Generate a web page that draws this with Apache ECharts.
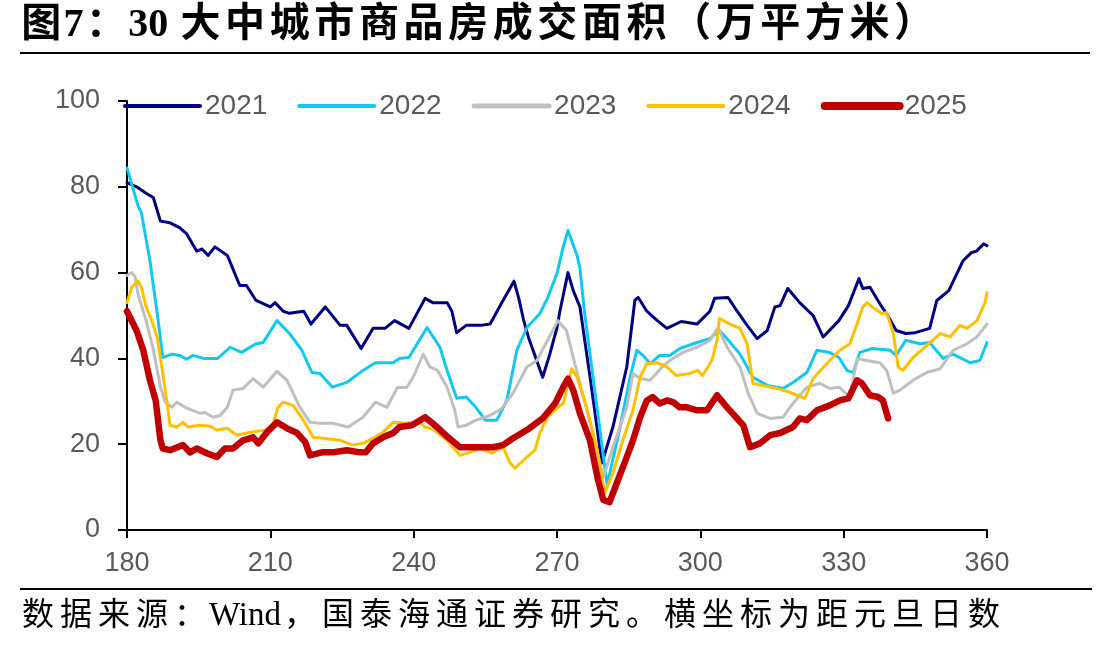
<!DOCTYPE html>
<html>
<head>
<meta charset="utf-8">
<script src="https://cdn.jsdelivr.net/npm/echarts@6/dist/echarts.min.js"></script>
<style>
  html, body { margin: 0; padding: 0; background: #fff; }
  #main { width: 1108px; height: 648px; }
</style>
</head>
<body>
<div id="main"></div>
<script>
// 距元旦日数 / 成交面积(万平方米)
const xTicks = [180, 210, 240, 270, 300, 330, 360];
const yTicks = [0, 20, 40, 60, 80, 100];
const years = ['2021', '2022', '2023', '2024', '2025'];

const days2021 = [180,182,184,185.5,187,189,191,192.5,194.6,195.7,197,198.4,201,203.6,205,207,210,211,212.7,214,217,218.5,221.5,224.6,226,229,231.5,234,236,239,242.4,244,247,248,249,251,254,256,258.7,261,262,263,264,267,268.5,270,270.6,272.3,273.4,274.8,277,279.4,281.7,284.6,286.3,287,288.8,291,293,296,299.3,302,303,305.8,307.7,309.8,311.9,314,315.6,316.7,318.3,320.8,323.6,325.7,329,331,333.2,334,335.5,338,339,341,343,345,348,349.5,352,355,356.8,357.8,359.3,360];
const vals2021 = [81,80,78.5,77.5,72,71.6,70.5,69,65,65.5,64,66,64,57,57,53.5,52,53,51,50.5,51,48,52,47.7,47.7,42.3,47,47,48.8,47,54,53,53,51,46,47.7,47.7,48,53.5,58,54,49,45,35.6,41,47.2,51,60,55.8,52,35,15.6,24,38,53.5,54.2,51,48.8,47,48.6,48,51,54,54.2,51,47.7,44.6,46.5,52,52.3,56.3,53,50,45,48.8,52.3,58.6,56.3,56.6,52,50.4,46.5,45.8,46,47,53.5,55.8,62.8,64.7,65,66.7,66.3];

const days2022 = [180,182.3,183,184.8,186.5,187.5,189.4,191,192.5,193.8,196,199,201.6,204,207,208.5,211.4,214,216.6,218.7,220.4,223,226,229.4,232,235.7,237,239,242.8,245.5,247,249,251,253,255,257.4,259.5,261.6,263.7,266.4,268,270,271.3,272.3,273.3,274.2,274.8,275.8,280.5,283.2,285.3,286.7,288,289.5,291.5,293.6,295.7,299.3,302,304,305.6,308.3,311,314,317.3,319.4,322.3,324.4,327,329,330.7,332,333.4,336,339.7,341,343,346,348,350.8,352.9,356.4,358.5,360];
const vals2022 = [84.4,75.6,74,62.8,49,40.2,41,40.7,39.8,40.7,40,40,42.6,41.4,43.4,43.7,48.8,45.8,41.9,36.7,36.5,33.3,34.4,37.2,39,39,40,40.2,47.2,42.6,37.2,30.7,31,28.6,25.6,25.6,30.2,41.9,47.2,50.4,54,59.8,66,69.8,66.7,64,61,50.4,10.5,24,35.6,41.9,40.7,38.8,40.7,40.7,42.3,43.7,44.6,46.5,44.6,41,35.6,33.7,33,34.4,36.7,41.9,41.4,40.2,37.2,36.7,41.4,42.3,41.9,40.7,44.2,43.4,43.7,40,41,39,39.5,43.7];

const days2023 = [180,181,181.7,182.3,182.7,184,185.4,187,188,189.4,190.4,192.5,195.3,196.3,198,199.5,201,202.2,204.3,206.4,208.5,211.4,213.5,216.2,218.3,220.4,223,226.3,229.4,232,234.4,236.6,238.6,239.9,242,243.4,245,247,248.6,249.3,251,253,256,258.5,260.8,263.7,265.8,268,270.2,272,273.4,274.8,277.5,279.7,281.7,284.6,285.9,287.4,289.5,292,293.6,296.4,299.3,302,303.7,305.6,308.3,310,311.9,314.6,317.3,319.4,322.3,325,327,329,331.3,332.8,334.9,337.6,339,340.4,341.8,344.5,347.4,350.2,352.9,355.8,357.9,360];
const vals2023 = [59.3,60,59,55,53.5,48.8,42.6,33.3,29.8,28.6,29.8,28.4,27.2,27.4,26.3,26.7,28.6,32.6,33,35.3,33.3,37,34.9,28.6,25.1,24.9,24.9,24,26.3,29.8,28.6,33.2,33.3,35.6,41,38,37.2,33.3,27.9,24,24.4,25.6,26.7,28.4,31.9,38,39.5,44.2,48.8,46.5,40.2,34.2,22.6,12.3,19.3,28.6,36.5,35.3,34.9,38,39.5,41.4,42.6,44.2,47.2,42.6,38,31.9,27.2,26,26.3,29.5,33.3,34.2,33,33.3,31,40,39.5,39,37.2,31.9,32.6,34.9,36.7,37.6,41.9,43.4,45,48];

const days2024 = [180,181,182.3,183,184,185.2,186.3,187.3,188.4,189,190.4,191.7,192.8,195.3,197.4,198.8,201,203,205,207.2,209.3,210.6,211.6,212.7,214.8,216.9,219,221,224.6,227.3,229.4,231.5,233.6,235.7,238.6,241.3,242.4,244,247,249.7,251.8,253.9,256.4,258.7,260.2,261.2,263.7,265.4,266.4,268,270,271.3,273.1,274.2,276.2,278.4,280,281.7,283.8,285.9,287.4,288.8,291,293,295,297.8,299.5,300.5,302.4,303.5,304,306.2,308.3,309.8,311,313,316,318.8,321.9,323.6,326.5,329.2,331.3,332.8,334,334.9,336,338,339,340.4,341.4,342.4,344.5,347.4,350.2,352.3,354.3,355.8,357.9,359.6,360];
const vals2024 = [53,56.6,58.1,56.6,52,48.8,45,38,29.5,24.4,24,25.1,24,24.4,24.2,23.3,23.7,22.1,22.6,23,23.3,24.9,28.6,29.8,29,25.6,21.6,21.4,20.9,19.8,20.2,21.4,22.8,25.1,24.9,25.1,24,23.5,20.9,17.4,18.1,19,17.9,19.3,15.6,14.4,17,18.6,22.6,26.3,28.4,29.5,37.6,35.6,28.6,18.6,8.6,13.3,20.9,27.9,35.6,38.8,39,38,36,36.5,37.2,36,39.5,44.2,49.3,48,47,43.4,34.2,33.7,33,32.1,30.7,35.3,38.8,41.9,43.4,48,52,53,52,50.4,50.7,45.8,38,37.2,40.2,43,45.8,45,47.7,47,48.8,53,55.3];

const days2025 = [180,182,183.4,184.8,186,187,187.5,189,191.7,193.2,194.6,196.7,198.8,200.5,202.2,204.3,206.4,207.5,209.3,211.4,213.5,215.6,217.3,218.3,220.8,223,226,228.8,230,231.5,233.6,235.7,237,239.6,242.4,244.9,247.2,249.7,252.4,256.6,258.7,260.8,263.7,267,269.6,271.3,272.3,273.4,274.8,276.9,278.6,279.7,281,282.5,284.6,285.9,287.4,288.8,290,291.5,293,294.3,295.7,297.2,299.3,301.4,303.5,305.6,307.7,309,310.4,312.5,314.6,316.7,319.4,320.8,322.3,324.4,327,329.2,331,332.8,333.8,335.5,337.2,338.2,339.3];
const vals2025 = [51,46.5,41.9,34.9,30.2,20.9,19,18.6,19.8,18.1,19,17.9,17,19,19,20.9,21.6,20.2,22.8,25.1,23.7,22.6,20.5,17.4,18.1,18.1,18.6,18.1,18.1,20.2,21.6,22.6,24,24.4,26.3,24,21.6,19.3,19.3,19.3,19.8,21.4,23.3,26,29.5,33.3,35.3,32.6,27.2,20.9,11.6,7,6.5,10.9,17,20.9,26.3,30.2,31,29.5,30.2,29.8,28.6,28.6,27.9,27.9,31.4,28.6,26,24.4,19.3,20.2,22.1,22.6,24,26,25.6,27.9,29,30.2,30.7,34.9,34.2,31.4,31,30.2,26];

const colors = ['#000080', '#12C8F2', '#BFBFBF', '#FFC000', '#C00000'];
const widths = [3, 3, 3, 3, 6.5];
const legendWidths = [4, 4, 5, 4, 8];
const allDays = [days2021, days2022, days2023, days2024, days2025];
const allVals = [vals2021, vals2022, vals2023, vals2024, vals2025];

const titleText = '图7：30 大中城市商品房成交面积（万平方米）';
const sourceText = '数据来源：Wind，国泰海通证券研究。横坐标为距元旦日数';

function pairs(d, v) {
    return d.map((x, i) => [x, v[i]]);
}

// 中文字符按固定字距排版，西文保持原宽度
function spaced(str) {
    let out = '';
    let buf = '';
    for (const ch of str) {
        if (/[\u3000-\u9fff\uff00-\uffef]/.test(ch)) {
            if (buf) { out += '{n|' + buf + '}'; buf = ''; }
            out += '{c|' + ch + '}';
        } else {
            buf += ch;
        }
    }
    if (buf) out += '{n|' + buf + '}';
    return out;
}

const chart = echarts.init(document.getElementById('main'));

const axisStyle = { color: '#000', width: 2 };
const labelStyle = { color: '#595959', fontSize: 27, fontFamily: 'Liberation Sans, Arial, sans-serif' };
const serif = 'Liberation Serif, Noto Sans CJK SC, serif';

const option = {
    backgroundColor: '#fff',
    animation: false,
    title: [
        {
            text: spaced(titleText),
            left: 19, top: 6, padding: 0,
            textStyle: {
                fontSize: 40, fontWeight: 'bold', color: '#000', fontFamily: serif,
                rich: {
                    c: { width: 44.6, align: 'center', fontSize: 40, fontWeight: 'bold', fontFamily: serif, color: '#000' },
                    n: { align: 'center', fontSize: 40, fontWeight: 'bold', fontFamily: serif, color: '#000' }
                }
            }
        },
        {
            text: spaced(sourceText),
            left: 19, top: 600, padding: 0,
            textStyle: {
                fontSize: 32, fontWeight: 'normal', color: '#000', fontFamily: serif,
                rich: {
                    c: { width: 38, align: 'center', fontSize: 32, fontFamily: serif, color: '#000' },
                    n: { align: 'center', fontSize: 33, fontFamily: serif, color: '#000' }
                }
            }
        }
    ],
    graphic: [
        { type: 'line', shape: { x1: 20, y1: 53, x2: 1090, y2: 53 }, style: { stroke: '#000', lineWidth: 2 } },
        { type: 'line', shape: { x1: 20, y1: 589, x2: 1092, y2: 589 }, style: { stroke: '#000', lineWidth: 2 } }
    ],
    legend: {
        data: years.map((y, i) => ({ name: y, lineStyle: { width: legendWidths[i], cap: 'round' } })),
        left: 118, top: 87,
        itemWidth: 75, itemHeight: 20, itemGap: 30,
        // 只保留图例中的线段，隐藏默认圆点
        itemStyle: { color: 'rgba(0,0,0,0)', borderWidth: 0, opacity: 0 },
        lineStyle: { cap: 'round' },
        textStyle: { color: '#595959', fontSize: 28, fontFamily: 'Liberation Sans, Arial, sans-serif' }
    },
    grid: { left: 127, right: 121, top: 101, bottom: 118, containLabel: false },
    xAxis: {
        type: 'value', min: xTicks[0], max: xTicks[xTicks.length - 1], interval: 30,
        axisLine: { lineStyle: axisStyle },
        axisTick: { show: true, inside: false, length: 8, lineStyle: axisStyle },
        axisLabel: Object.assign({ margin: 20 }, labelStyle),
        splitLine: { show: false }
    },
    yAxis: {
        type: 'value', min: yTicks[0], max: yTicks[yTicks.length - 1], interval: 20,
        axisLine: { show: true, lineStyle: axisStyle },
        axisTick: { show: true, inside: false, length: 9, lineStyle: axisStyle },
        axisLabel: Object.assign({ margin: 27 }, labelStyle),
        splitLine: { show: false }
    },
    series: years.map((y, i) => ({
        name: y,
        type: 'line',
        data: pairs(allDays[i], allVals[i]),
        symbol: 'none',
        color: colors[i],
        lineStyle: { color: colors[i], width: widths[i], cap: 'round', join: 'round' },
        z: 2 + i
    }))
};

chart.setOption(option);
</script>
</body>
</html>
